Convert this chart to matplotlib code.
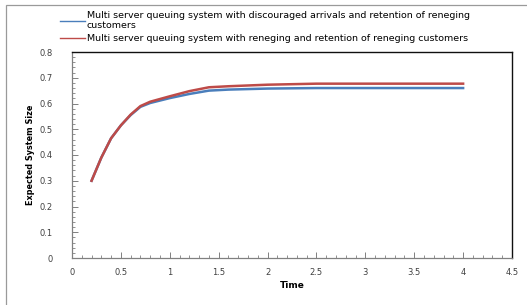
import matplotlib.pyplot as plt
from matplotlib.ticker import MultipleLocator
from matplotlib.patches import Rectangle

# Expected system size over time for the two queuing models
time = [0.2, 0.3, 0.4, 0.5, 0.6, 0.7, 0.8, 1.0, 1.2, 1.4, 1.6, 2.0, 2.5, 3.0, 3.5, 4.0]
discouraged = [0.300, 0.390, 0.465, 0.515, 0.555, 0.587, 0.602, 0.621, 0.637, 0.650,
               0.654, 0.658, 0.660, 0.660, 0.660, 0.660]
reneging = [0.300, 0.390, 0.465, 0.515, 0.557, 0.590, 0.607, 0.628, 0.648, 0.663,
            0.667, 0.673, 0.677, 0.677, 0.677, 0.677]

xticks = [0, 0.5, 1, 1.5, 2, 2.5, 3, 3.5, 4, 4.5]
xticklabels = ['0', '0.5', '1', '1.5', '2', '2.5', '3', '3.5', '4', '4.5']
yticks = [0, 0.1, 0.2, 0.3, 0.4, 0.5, 0.6, 0.7, 0.8]
yticklabels = ['0', '0.1', '0.2', '0.3', '0.4', '0.5', '0.6', '0.7', '0.8']

labels = ['Multi server queuing system with discouraged arrivals and retention of reneging\ncustomers',
          'Multi server queuing system with reneging and retention of reneging customers']

fig = plt.figure(figsize=(5.27, 3.05), dpi=100)
ax = fig.add_axes([72 / 527, 1 - 258 / 305, 440 / 527, 206 / 305])

# outer chart frame (only left/top visible in the crop)
fig.patches.append(Rectangle((6 / 527, -0.1), 1.2, 1 - 5 / 305 + 0.1, transform=fig.transFigure,
                             fill=False, edgecolor='#9a9a9a', linewidth=0.9))

l1, = ax.plot(time, discouraged, color='#4a7ebb', linewidth=1.8)
l2, = ax.plot(time, reneging, color='#be4b48', linewidth=1.8)

ax.set_xlim(0, 4.5)
ax.set_ylim(0, 0.8)
ax.set_xticks(xticks)
ax.set_xticklabels(xticklabels)
ax.set_yticks(yticks)
ax.set_yticklabels(yticklabels)
ax.xaxis.set_minor_locator(MultipleLocator(0.1))
ax.yaxis.set_minor_locator(MultipleLocator(0.02))

ax.tick_params(which='major', direction='in', length=4, width=0.7, color='#808080',
               labelsize=6, labelcolor='#404040')
ax.tick_params(which='minor', direction='in', length=2, width=0.6, color='#808080')
ax.tick_params(axis='x', pad=7)
ax.tick_params(axis='y', pad=14)

for side in ['left', 'bottom']:
    ax.spines[side].set_color('#808080')
    ax.spines[side].set_linewidth(0.9)
for side in ['top', 'right']:
    ax.spines[side].set_color('#101010')
    ax.spines[side].set_linewidth(1.0)

ax.set_xlabel('Time', fontsize=6.5, fontweight='bold', labelpad=3)
ax.set_ylabel('Expected System Size', fontsize=6.5, fontweight='bold', labelpad=3,
              fontstretch='condensed')

fig.legend([l1, l2], labels, loc='upper left', bbox_to_anchor=(56 / 527, 1 - 7 / 305),
           frameon=False, fontsize=6.8, handlelength=2.7, handletextpad=0.15,
           labelspacing=0.45, borderaxespad=0)
for line in fig.legends[0].get_lines():
    line.set_linewidth(1.0)

fig.savefig('out.png', dpi=100)
